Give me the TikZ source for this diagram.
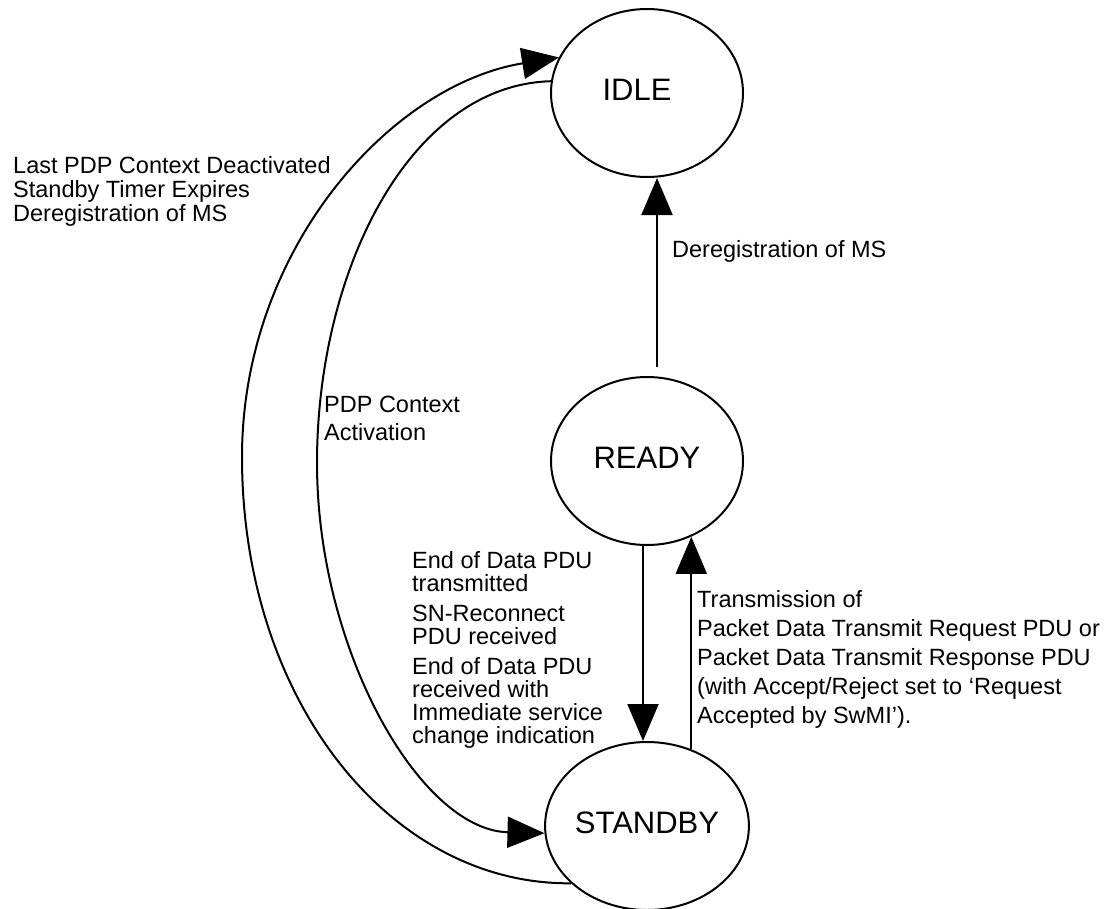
\documentclass[tikz,border=0pt]{standalone}
\usepackage{fontspec}
\setmainfont{Liberation Sans}
\usetikzlibrary{arrows.meta,shapes.geometric}
\begin{document}
\begin{tikzpicture}[x=1pt,y=-1pt,
  state/.style={draw, ellipse, line width=2pt, minimum width=192pt, minimum height=168pt,
    inner sep=0pt, text height=22pt, text depth=7pt, font=\fontsize{31}{36}\selectfont},
  conn/.style={line width=2pt, -{Triangle[length=37pt,width=31pt]}},
  lbl/.style={anchor=base west, inner sep=0pt, align=left}]
\useasboundingbox (0,0) rectangle (1116,908);

\node[state] (idle) at (647,93) {IDLE\hspace*{20pt}};
\node[state] (ready) at (647,461) {READY};
\node[state] (standby) at (647,826) {STANDBY};

% READY -> IDLE
\coordinate (rtop) at ([xshift=10pt,yshift=9pt]ready.north);
\draw[conn] (rtop) -- (rtop |- idle.south);
% READY -> STANDBY
\draw[conn] ([xshift=-4pt]ready.south) -- ([xshift=-4pt]standby.north);
% STANDBY -> READY
\draw[conn] (standby.60) -- (standby.60 |- ready.-60);
% STANDBY -> IDLE (outer)
\draw[conn] (standby.217) .. controls (390,885) and (242,700) .. (242,457)
  .. controls (242,250) and (390,85) .. (idle.158);
% IDLE -> STANDBY (inner)
\draw[conn] (idle.173) .. controls (410,85) and (317,270) .. (317,463)
  .. controls (317,650) and (420,830) .. (standby.184);

% labels (anchor at the baseline of the last line)
\node[lbl, font=\fontsize{23.5}{24}\selectfont] (l1) at (13,221)
  {Last PDP Context Deactivated\\Standby Timer Expires\\Deregistration of MS};
\node[lbl, font=\fontsize{23.5}{24}\selectfont] (l2) at (672,257)
  {Deregistration of MS};
\node[lbl, font=\fontsize{23.5}{28}\selectfont] (l3) at (324,440)
  {PDP Context\\Activation};
\node[lbl, font=\fontsize{23.5}{23}\selectfont] (l4) at (412,743)
  {End of Data PDU\\transmitted\\[7pt]SN-Reconnect\\PDU received\\[7pt]End of Data PDU\\received with\\Immediate service\\change indication};
\node[lbl, font=\fontsize{23.5}{29}\selectfont] (l5) at (697,723)
  {Transmission of\\Packet Data Transmit Request PDU or\\Packet Data Transmit Response PDU\\(with Accept/Reject set to ‘Request\\Accepted by SwMI’).};
\end{tikzpicture}
\end{document}
